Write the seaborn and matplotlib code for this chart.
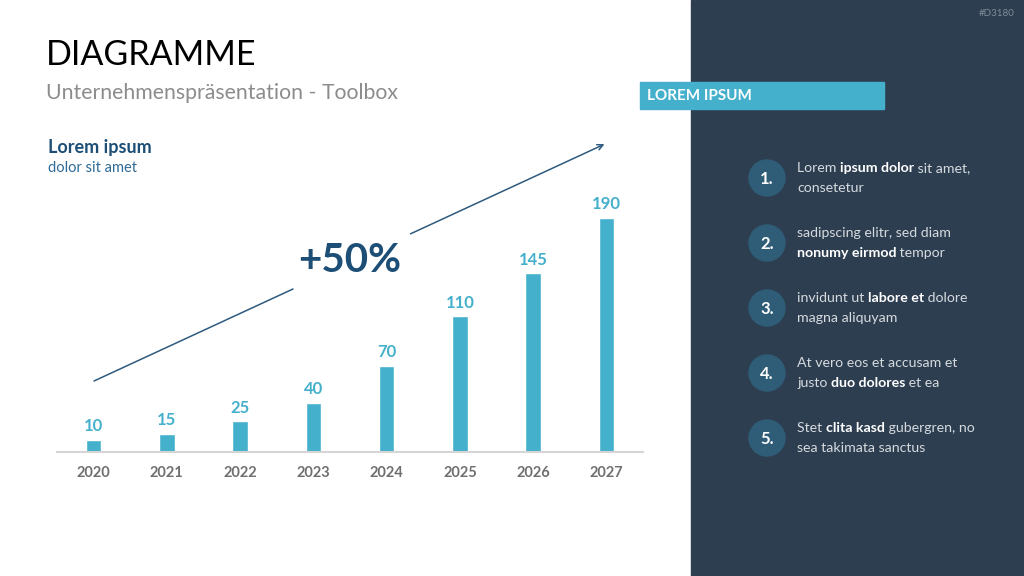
import matplotlib
matplotlib.use("Agg")
import matplotlib.pyplot as plt
import seaborn as sns
import pandas as pd
from matplotlib.patches import Rectangle, Circle

years = ["2020", "2021", "2022", "2023", "2024", "2025", "2026", "2027"]
values = [10, 15, 25, 40, 70, 110, 145, 190]

growth_label = "+50%"
title = "DIAGRAMME"
subtitle = "Unternehmenspräsentation - Toolbox"
chart_title = "Lorem ipsum"
chart_subtitle = "dolor sit amet"
panel_title = "LOREM IPSUM"
slide_id = "#D3180"

# each item: two lines, each line a list of (text, bold)
items = [
    [[("Lorem ", False), ("ipsum dolor", True), (" sit amet,", False)], [("consetetur", False)]],
    [[("sadipscing elitr, sed diam", False)], [("nonumy eirmod", True), (" tempor", False)]],
    [[("invidunt ut ", False), ("labore et", True), (" dolore", False)], [("magna aliquyam", False)]],
    [[("At vero eos et accusam et", False)], [("justo ", False), ("duo dolores", True), (" et ea", False)]],
    [[("Stet ", False), ("clita kasd", True), (" gubergren, no", False)], [("sea takimata sanctus", False)]],
]

BAR = "#45B0CB"
NAVY = "#2D3E50"
DARKBLUE = "#1D4E75"
CIRCLE = "#2F5D78"
W, H = 1024, 576

sns.set_style("white")
plt.rcParams["font.family"] = ["Lato", "DejaVu Sans"]

fig = plt.figure(figsize=(W / 100, H / 100), dpi=100)

# overlay in pixel coordinates
ov = fig.add_axes([0, 0, 1, 1], zorder=0)
ov.set_xlim(0, W)
ov.set_ylim(H, 0)
ov.axis("off")

ov.add_patch(Rectangle((691, 0), W - 691, H, color=NAVY, zorder=0))
ov.add_patch(Rectangle((640, 82), 244, 27, color=BAR, zorder=1))
ov.text(647, 95.5, panel_title, color="white", fontsize=11, fontweight="bold", va="center", zorder=2)
ov.text(1014, 14, slide_id, color="#7F8C99", fontsize=7, ha="right", va="center")

ov.text(46, 55, title, fontsize=24.5, color="black", va="center")
ov.text(46, 93, subtitle, fontsize=15.3, color="#8C8C8C", va="center")
ov.text(48, 147, chart_title, fontsize=13, color=DARKBLUE, fontweight="bold", va="center")
ov.text(48, 168, chart_subtitle, fontsize=10.5, color="#2E6A96", va="center")

# growth arrow
ov.plot([94, 293], [381, 289], color="#2E5A7F", lw=1.1)
ov.annotate("", xy=(607, 143), xytext=(408, 235),
            arrowprops=dict(arrowstyle="->", color="#2E5A7F", lw=1.1))
ov.text(350, 261, growth_label, fontsize=29, fontweight="bold", color=DARKBLUE,
        ha="center", va="center")

# numbered list
fig.canvas.draw()
renderer = fig.canvas.get_renderer()
for i, lines in enumerate(items):
    cy = 178 + i * 65
    ov.add_patch(Circle((767, cy), 18, color=CIRCLE, zorder=2))
    ov.text(767, cy + 1, f"{i + 1}.", color="white", fontsize=12, fontweight="bold",
            ha="center", va="center", zorder=3)
    for j, runs in enumerate(lines):
        y = cy - 10 + j * 20
        x = 797
        for txt, bold in runs:
            t = ov.text(x, y, txt, fontsize=10.2, va="center",
                        color="white" if bold else "#D5DADF",
                        fontweight="bold" if bold else "normal")
            x += t.get_window_extent(renderer).width

# bar chart
ax = fig.add_axes([57 / W, (H - 452) / H, 586 / W, 308 / H], zorder=1)
ax.patch.set_alpha(0)
df = pd.DataFrame({"year": years, "value": values})
sns.barplot(data=df, x="year", y="value", color=BAR, saturation=1, width=0.21, ax=ax)
ax.set_xlim(-0.5, 7.5)
ax.set_ylim(0, 250)
ax.bar_label(ax.containers[0], padding=4, color=BAR, fontsize=12, fontweight="bold")
ax.set_xlabel("")
ax.set_ylabel("")
ax.set_yticks([])
sns.despine(ax=ax, left=True)
ax.spines["bottom"].set_color("#D5D5D5")
ax.spines["bottom"].set_linewidth(1.5)
ax.tick_params(axis="x", length=0, pad=10, labelsize=10.5, labelcolor="#6F6F6F")
for lbl in ax.get_xticklabels():
    lbl.set_fontweight("bold")

plt.savefig("out.png", dpi=100)
